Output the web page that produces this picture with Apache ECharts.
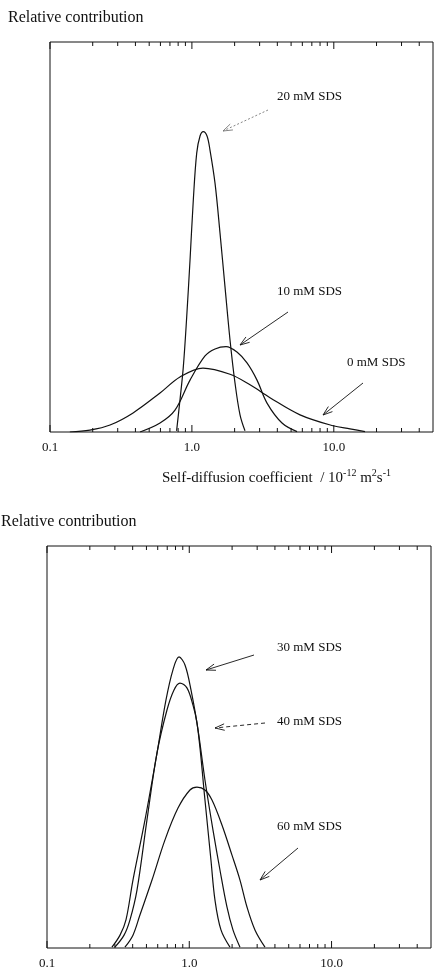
<!DOCTYPE html>
<html>
<head>
<meta charset="utf-8">
<script src="https://cdn.jsdelivr.net/npm/echarts@6/dist/echarts.min.js"></script>
<style>
html,body{margin:0;padding:0;background:#fff;}
#chart{width:435px;height:971px;}
</style>
</head>
<body>
<div id="chart"></div>
<script>
// ---- axis ticks ----
const majorTicks = [0.1, 1, 10];
const tickLabels = ['0.1', '1.0', '10.0'];
const minorTicks = [0.2, 0.3, 0.4, 0.5, 0.6, 0.7, 0.8, 0.9, 2, 3, 4, 5, 6, 7, 8, 9, 20, 30, 40];

// ---- top panel: self-diffusion coefficient (1e-12 m2/s) vs relative contribution ----
const D_0mM  = [0.138, 0.191, 0.265, 0.385, 0.596, 0.824, 1.197, 1.856, 2.567, 3.55, 5.78, 9.87, 13.0, 16.6];
const H_0mM  = [0, 0.5, 1.8, 4.9, 10.0, 14.1, 16.4, 14.8, 12.1, 8.8, 4.4, 1.6, 0.8, 0.1];

const D_10mM = [0.431, 0.596, 0.760, 0.970, 1.237, 1.455, 1.739, 2.078, 2.445, 2.876, 3.383, 4.315, 5.505];
const H_10mM = [0, 2.3, 5.6, 13.3, 19.5, 21.3, 21.9, 20.5, 17.7, 13.3, 7.4, 2.3, 0.1];

const D_20mM = [0.78, 0.824, 0.870, 0.919, 0.970, 1.023, 1.081, 1.141, 1.203, 1.278, 1.341, 1.455, 1.578, 1.711, 1.856, 2.012, 2.183, 2.367];
const H_20mM = [0.3, 8.2, 16.7, 29.5, 44.1, 59.5, 71.5, 75.9, 77.0, 75.9, 72.3, 63.8, 51.0, 37.2, 23.6, 12.6, 4.4, 0.3];

// ---- bottom panel ----
const D_30mM = [0.286, 0.326, 0.359, 0.402, 0.488, 0.593, 0.686, 0.768, 0.847, 0.933, 1.028, 1.151, 1.289, 1.420, 1.516, 1.670, 1.932];
const H_30mM = [0.2, 3.2, 7.0, 16.9, 31.8, 48.5, 61.7, 69.2, 72.4, 70.4, 64.2, 54.2, 36.8, 21.9, 11.9, 4.5, 0.2];

const D_40mM = [0.300, 0.348, 0.383, 0.429, 0.504, 0.593, 0.697, 0.781, 0.860, 0.963, 1.062, 1.133, 1.289, 1.467, 1.643, 1.840, 2.028, 2.272];
const H_40mM = [0.2, 3.2, 7.0, 14.4, 31.8, 48.5, 59.2, 64.2, 65.9, 64.7, 60.4, 56.0, 41.8, 29.4, 19.4, 10.2, 4.5, 0.2];

const D_60mM = [0.353, 0.402, 0.450, 0.547, 0.675, 0.833, 1.011, 1.133, 1.289, 1.444, 1.697, 1.996, 2.272, 2.544, 2.895, 3.404];
const H_60mM = [0.2, 3.2, 8.2, 16.9, 26.9, 34.8, 39.3, 40.0, 39.3, 36.8, 30.6, 23.1, 16.9, 10.2, 4.5, 0.2];

const seriesNames = ['0 mM SDS', '10 mM SDS', '20 mM SDS', '30 mM SDS', '40 mM SDS', '60 mM SDS'];

const FONT = '"Liberation Serif", "DejaVu Serif", serif';
const INK = '#111';

function pairs(xs, ys) { return xs.map((x, i) => [x, ys[i]]); }

function tickData() {
  return majorTicks.map(v => [v, 1]).concat(minorTicks.map(v => [v, 0]));
}

function tickSeries(idx) {
  return {
    type: 'custom', xAxisIndex: idx, yAxisIndex: idx, silent: true, clip: false,
    data: tickData(), encode: { x: 0, y: 1 },
    renderItem: function (params, api) {
      const v = api.value(0);
      const major = api.value(1) === 1;
      const b = api.coord([v, 0]);
      const t = api.coord([v, 100]);
      const L = major ? 7 : 4;
      return {
        type: 'group',
        children: [
          { type: 'line', shape: { x1: b[0], y1: b[1], x2: b[0], y2: b[1] - L }, style: { stroke: INK, lineWidth: 1 } },
          { type: 'line', shape: { x1: t[0], y1: t[1], x2: t[0], y2: t[1] + L }, style: { stroke: INK, lineWidth: 1 } }
        ]
      };
    }
  };
}

function curve(name, idx, xs, ys) {
  return {
    name: name, type: 'line', xAxisIndex: idx, yAxisIndex: idx,
    data: pairs(xs, ys), smooth: 0.35, showSymbol: false, silent: true,
    lineStyle: { color: INK, width: 1.2 }
  };
}

function xAxisDef(idx) {
  return {
    type: 'log', logBase: 10, min: 0.1, max: 50, gridIndex: idx,
    axisLine: { show: false }, axisTick: { show: false }, splitLine: { show: false },
    minorTick: { show: false },
    axisLabel: {
      margin: 9, color: INK, fontFamily: FONT, fontSize: 13,
      showMaxLabel: false,
      formatter: function (v) {
        const l = Math.log10(v);
        if (Math.abs(l - Math.round(l)) > 1e-6) return '';
        const k = majorTicks.findIndex(m => Math.abs(Math.log10(m) - l) < 1e-6);
        return k >= 0 ? tickLabels[k] : '';
      }
    }
  };
}

function yAxisDef(idx) {
  return { type: 'value', min: 0, max: 100, gridIndex: idx, show: false };
}

function arrow(x1, y1, x2, y2, dash, color) {
  const ang = Math.atan2(y2 - y1, x2 - x1);
  const L = 10, a = 0.33;
  const p1 = [x2 - L * Math.cos(ang - a), y2 - L * Math.sin(ang - a)];
  const p2 = [x2 - L * Math.cos(ang + a), y2 - L * Math.sin(ang + a)];
  const c = color || INK;
  return {
    type: 'group', silent: true,
    children: [
      { type: 'line', shape: { x1: x1, y1: y1, x2: x2, y2: y2 }, style: { stroke: c, lineWidth: 0.9, lineDash: dash || null } },
      { type: 'polyline', shape: { points: [p1, [x2, y2], p2] }, style: { stroke: c, fill: null, lineWidth: 0.9 } }
    ]
  };
}

function label(text, x, y, size) {
  return {
    type: 'text', silent: true,
    style: { text: text, x: x, y: y, fill: INK, font: (size || 13) + 'px ' + FONT, align: 'left', verticalAlign: 'middle', textAlign: 'left', textVerticalAlign: 'middle' }
  };
}

const chart = echarts.init(document.getElementById('chart'), null, { renderer: 'canvas' });

const option = {
  backgroundColor: '#fff',
  animation: false,
  grid: [
    { left: 50, top: 42, width: 383, height: 390, show: true, borderColor: INK, borderWidth: 1, backgroundColor: 'transparent' },
    { left: 47, top: 546, width: 384, height: 402, show: true, borderColor: INK, borderWidth: 1, backgroundColor: 'transparent' }
  ],
  xAxis: [xAxisDef(0), xAxisDef(1)],
  yAxis: [yAxisDef(0), yAxisDef(1)],
  series: [
    tickSeries(0), tickSeries(1),
    curve(seriesNames[0], 0, D_0mM, H_0mM),
    curve(seriesNames[1], 0, D_10mM, H_10mM),
    curve(seriesNames[2], 0, D_20mM, H_20mM),
    curve(seriesNames[3], 1, D_30mM, H_30mM),
    curve(seriesNames[4], 1, D_40mM, H_40mM),
    curve(seriesNames[5], 1, D_60mM, H_60mM)
  ],
  graphic: [
    label('Relative contribution', 8, 18, 16),
    label('Relative contribution', 1, 522, 16),
    {
      type: 'text', silent: true,
      style: {
        x: 162, y: 478, align: 'left', verticalAlign: 'middle',
        text: '{n|Self-diffusion coefficient  / 10}{s|-12}{n| m}{s|2}{n|s}{s|-1}',
        rich: {
          n: { fontFamily: FONT, fontSize: 15, fill: INK, color: INK },
          s: { fontFamily: FONT, fontSize: 10, fill: INK, color: INK, padding: [0, 0, 9, 0] }
        }
      }
    },
    label('20 mM SDS', 277, 97),
    arrow(268, 110, 223, 131, [2, 2], '#777'),
    label('10 mM SDS', 277, 292),
    arrow(288, 312, 240, 345),
    label('0 mM SDS', 347, 363),
    arrow(363, 383, 323, 415),
    label('30 mM SDS', 277, 648),
    arrow(254, 655, 206, 670),
    label('40 mM SDS', 277, 722),
    arrow(265, 723, 215, 728, [4, 3]),
    label('60 mM SDS', 277, 827),
    arrow(298, 848, 260, 880)
  ]
};

chart.setOption(option);
</script>
</body>
</html>
